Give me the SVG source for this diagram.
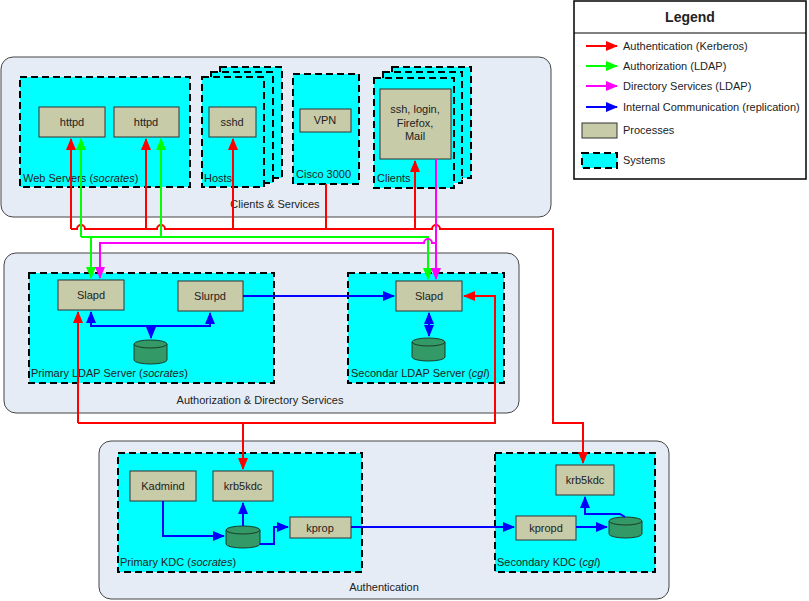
<svg xmlns="http://www.w3.org/2000/svg" width="809" height="601" viewBox="0 0 809 601">
<style>
text{font-family:"Liberation Sans",Arial,sans-serif;font-size:11px;fill:#222}
.grp{fill:#E6ECF6;stroke:#444;stroke-width:1}
.sys{fill:#00FFFF;stroke:#000;stroke-width:2;stroke-dasharray:7,4}
.proc{fill:#C8CBA8;stroke:#333;stroke-width:1}
.db{fill:#339966;stroke:#1a3d2a;stroke-width:1}
.c{fill:none;stroke-width:2}
.r{stroke:#FF0000}.g{stroke:#00FF00}.m{stroke:#FF00FF}.b{stroke:#0000FF}
.ct{text-anchor:middle}
</style>
<defs>
<marker id="ar" markerUnits="userSpaceOnUse" markerWidth="12" markerHeight="10" refX="11" refY="5" orient="auto"><path d="M0,0L12,5L0,10z" fill="#FF0000"/></marker>
<marker id="ag" markerUnits="userSpaceOnUse" markerWidth="12" markerHeight="10" refX="11" refY="5" orient="auto"><path d="M0,0L12,5L0,10z" fill="#00FF00"/></marker>
<marker id="am" markerUnits="userSpaceOnUse" markerWidth="12" markerHeight="10" refX="11" refY="5" orient="auto"><path d="M0,0L12,5L0,10z" fill="#FF00FF"/></marker>
<marker id="ab" markerUnits="userSpaceOnUse" markerWidth="12" markerHeight="10" refX="11" refY="5" orient="auto"><path d="M0,0L12,5L0,10z" fill="#0000FF"/></marker>
<marker id="abs" markerUnits="userSpaceOnUse" markerWidth="12" markerHeight="10" refX="1" refY="5" orient="auto"><path d="M12,0L0,5L12,10z" fill="#0000FF"/></marker>
</defs>

<g id="group-clients">
<rect class="grp" x="1" y="57" width="550" height="160" rx="12"/>
<text class="ct" x="275" y="208">Clients &amp; Services</text>
</g>
<g id="group-authz">
<rect class="grp" x="4" y="253" width="515" height="160" rx="12"/>
<text class="ct" x="260" y="404">Authorization &amp; Directory Services</text>
</g>
<g id="group-authn">
<rect class="grp" x="99" y="441" width="570" height="158" rx="12"/>
<text class="ct" x="384" y="591">Authentication</text>
</g>

<g id="web-servers">
<rect class="sys" x="20" y="77" width="170" height="110"/>
<text x="23" y="182">Web Servers (<tspan font-style="italic">socrates</tspan>)</text>
<rect class="proc" x="39" y="107" width="66" height="30"/><text class="ct" x="72" y="126">httpd</text>
<rect class="proc" x="114" y="107" width="65" height="30"/><text class="ct" x="146" y="126">httpd</text>
</g>
<g id="hosts">
<rect class="sys" x="220" y="67" width="62" height="111"/>
<rect class="sys" x="211" y="72" width="62" height="111"/>
<rect class="sys" x="202" y="77" width="62" height="110"/>
<text x="204" y="182">Hosts</text>
<rect class="proc" x="209" y="107" width="47" height="30"/><text class="ct" x="232" y="126">sshd</text>
</g>
<g id="cisco">
<rect class="sys" x="293" y="74" width="66" height="110"/>
<text x="296" y="178">Cisco 3000</text>
<rect class="proc" x="300" y="109" width="51" height="23"/><text class="ct" x="325" y="124">VPN</text>
</g>
<g id="clients">
<rect class="sys" x="392" y="67" width="79" height="111"/>
<rect class="sys" x="383" y="72" width="79" height="111"/>
<rect class="sys" x="374" y="78" width="80" height="110"/>
<text x="377" y="182">Clients</text>
<rect class="proc" x="380" y="89" width="71" height="70"/>
<text class="ct" x="415" y="113">ssh, login,</text><text class="ct" x="415" y="127">Firefox,</text><text class="ct" x="415" y="140">Mail</text>
</g>

<g id="primary-ldap">
<rect class="sys" x="29" y="273" width="245" height="110"/>
<text x="31" y="377">Primary LDAP Server (<tspan font-style="italic">socrates</tspan>)</text>
<rect class="proc" x="58" y="280" width="66" height="30"/><text class="ct" x="91" y="299">Slapd</text>
<rect class="proc" x="178" y="281" width="65" height="30"/><text class="ct" x="210" y="300">Slurpd</text>
<path class="db" d="M134,344v16a16.5,4 0 0 0 33,0v-16"/><ellipse class="db" cx="150.5" cy="344" rx="16.5" ry="4"/>
</g>
<g id="secondary-ldap">
<rect class="sys" x="348" y="273" width="156" height="110"/>
<text x="351" y="377">Secondar LDAP Server (<tspan font-style="italic">cgl</tspan>)</text>
<rect class="proc" x="396" y="281" width="66" height="30"/><text class="ct" x="429" y="300">Slapd</text>
<path class="db" d="M412,342v15a16.5,4 0 0 0 33,0v-15"/><ellipse class="db" cx="428.5" cy="342" rx="16.5" ry="4"/>
</g>

<g id="primary-kdc">
<rect class="sys" x="118" y="453" width="244" height="119"/>
<text x="120" y="566">Primary KDC (<tspan font-style="italic">socrates</tspan>)</text>
<rect class="proc" x="130" y="471" width="66" height="30"/><text class="ct" x="163" y="490">Kadmind</text>
<rect class="proc" x="213" y="471" width="60" height="30"/><text class="ct" x="243" y="490">krb5kdc</text>
<rect class="proc" x="290" y="517" width="61" height="21"/><text class="ct" x="320" y="532">kprop</text>
<path class="db" d="M226,530v14a17,4 0 0 0 34,0v-14"/><ellipse class="db" cx="243" cy="530" rx="17" ry="4"/>
</g>
<g id="secondary-kdc">
<rect class="sys" x="495" y="453" width="160" height="119"/>
<text x="497" y="566">Secondary KDC (<tspan font-style="italic">cgl</tspan>)</text>
<rect class="proc" x="556" y="465" width="58" height="30"/><text class="ct" x="585" y="484">krb5kdc</text>
<rect class="proc" x="516" y="516" width="60" height="24"/><text class="ct" x="546" y="532">kpropd</text>
<path class="db" d="M609,521v13a16.5,4 0 0 0 33,0v-13"/><ellipse class="db" cx="625.5" cy="521" rx="16.5" ry="4"/>
</g>

<g id="connectors">
<!-- red authentication -->
<path class="c r" d="M71,229H77a4,4 0 0 1 8,0H157a4,4 0 0 1 8,0H432a4,4 0 0 1 8,0H553V423H583V463" marker-end="url(#ar)"/>
<path class="c r" d="M71,229V139" marker-end="url(#ar)"/>
<path class="c r" d="M146,229V139" marker-end="url(#ar)"/>
<path class="c r" d="M233,229V139" marker-end="url(#ar)"/>
<path class="c r" d="M326,184V229"/>
<path class="c r" d="M415,229V161" marker-end="url(#ar)"/>
<path class="c r" d="M243,423V469" marker-end="url(#ar)"/>
<path class="c r" d="M78,423H495V296H464" marker-end="url(#ar)"/>
<path class="c r" d="M78,423V312" marker-end="url(#ar)"/>
<!-- green authorization -->
<path class="c g" d="M81,237V139" marker-end="url(#ag)"/>
<path class="c g" d="M161,237V139" marker-end="url(#ag)"/>
<path class="c g" d="M81,237H428V279" marker-end="url(#ag)"/>
<path class="c g" d="M91,237V278" marker-end="url(#ag)"/>
<!-- magenta directory -->
<path class="c m" d="M436,159V279" marker-end="url(#am)"/>
<path class="c m" d="M436,243H432a4,4 0 0 0 -8,0H100V278" marker-end="url(#am)"/>
<!-- blue internal -->
<path class="c b" d="M243,296H394" marker-end="url(#ab)"/>
<path class="c b" d="M91,312V326H210V313" marker-start="url(#abs)" marker-end="url(#ab)"/>
<path class="c b" d="M151,326V338" marker-end="url(#ab)"/>
<path class="c b" d="M429,313V336" marker-start="url(#abs)" marker-end="url(#ab)"/>
<path class="c b" d="M163,501V536H224" marker-end="url(#ab)"/>
<path class="c b" d="M243,526V503" marker-end="url(#ab)"/>
<path class="c b" d="M260,544H274V527H288" marker-end="url(#ab)"/>
<path class="c b" d="M351,527H514" marker-end="url(#ab)"/>
<path class="c b" d="M576,527H607" marker-end="url(#ab)"/>
<path class="c b" d="M625,517L620,514H585V497" marker-end="url(#ab)"/>
</g>

<g id="legend">
<rect x="574" y="1" width="232" height="178" fill="#fff" stroke="#000" stroke-width="1.5"/>
<line x1="574" y1="33" x2="806" y2="33" stroke="#000" stroke-width="1"/>
<text class="ct" x="690" y="22" style="font-size:14px;font-weight:bold">Legend</text>
<line class="c r" x1="586" y1="46" x2="617" y2="46" marker-end="url(#ar)"/><text x="623" y="50">Authentication (Kerberos)</text>
<line class="c g" x1="586" y1="66" x2="617" y2="66" marker-end="url(#ag)"/><text x="623" y="70">Authorization (LDAP)</text>
<line class="c m" x1="586" y1="86" x2="617" y2="86" marker-end="url(#am)"/><text x="623" y="90">Directory Services (LDAP)</text>
<line class="c b" x1="586" y1="107" x2="617" y2="107" marker-end="url(#ab)"/><text x="623" y="111">Internal Communication (replication)</text>
<rect class="proc" x="582" y="123" width="35" height="15"/><text x="623" y="134">Processes</text>
<rect class="sys" x="582" y="153" width="35" height="15"/><text x="623" y="164">Systems</text>
</g>
</svg>
